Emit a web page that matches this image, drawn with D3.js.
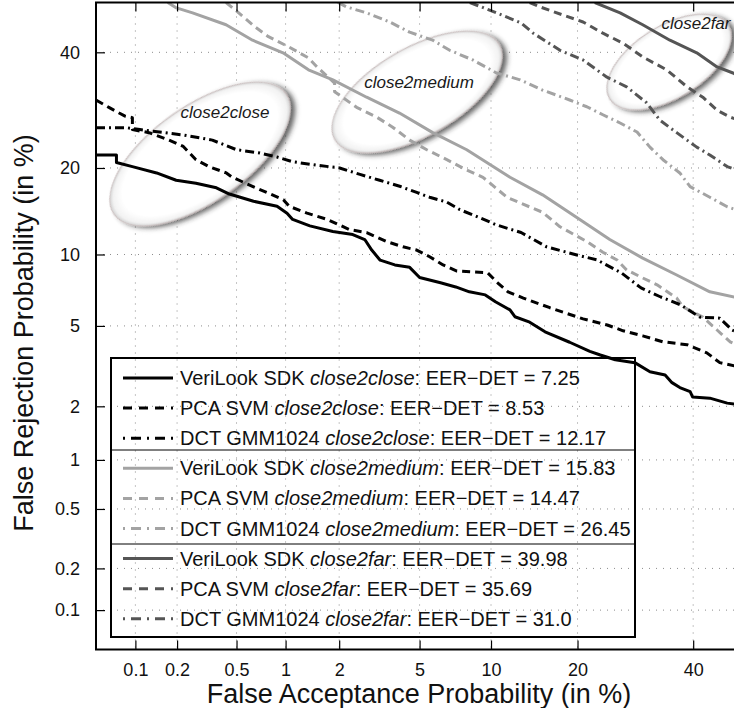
<!DOCTYPE html>
<html>
<head>
<meta charset="utf-8">
<script src="https://cdn.jsdelivr.net/npm/d3@7"></script>
<style>
    body { margin: 0; background: #fff; }
    text { font-family: "Liberation Sans", Arial, Helvetica, sans-serif; }
</style>
</head>
<body>
<svg id="chart" width="734" height="708"></svg>
<script>
// tick values (in %), both axes on a normal deviate scale
var xTicks = [0.1, 0.2, 0.5, 1, 2, 5, 10, 20, 40];
var yTicks = [0.1, 0.2, 0.5, 1, 2, 5, 10, 20, 40];
var axisLimits = [0.05, 50];

var scenarios = ['close2close', 'close2medium', 'close2far'];
var methods = ['VeriLook SDK', 'PCA SVM', 'DCT GMM1024'];
var eerLabels = [
    ['7.25', '8.53', '12.17'],
    ['15.83', '14.47', '26.45'],
    ['39.98', '35.69', '31.0']
];

// DET curves as [false acceptance %, false rejection %]
var verilookClose2close = [[0.05,21.9],[0.072,21.9],[0.072,20.8],[0.095,20.2],[0.143,19.3],[0.197,18.3],[0.27,17.9],[0.37,17.3],[0.45,16.5],[0.64,15.6],[0.89,15.0],[1.02,14.2],[1.10,13.5],[1.38,12.8],[1.85,12.2],[2.36,11.9],[2.72,11.4],[2.95,10.4],[3.25,9.5],[3.83,9.1],[4.5,8.9],[5.0,8.1],[6.2,7.7],[7.2,7.4],[8.2,7.06],[9.5,6.85],[10.4,6.4],[11.8,5.9],[12.3,5.5],[13.9,5.2],[15.7,4.7],[18.9,4.2],[21.8,3.8],[23.4,3.65],[25.8,3.46],[29.1,3.35],[31.8,3.02],[34.6,2.91],[35.9,2.66],[37.4,2.51],[39.4,2.39],[39.9,2.24],[43.3,2.21],[46.8,2.08],[50,2.03]];
var pcaClose2close = [[0.05,31.0],[0.064,29.6],[0.083,28.2],[0.095,27.9],[0.095,25.9],[0.126,25.4],[0.175,24.2],[0.221,23.2],[0.27,21.2],[0.33,20.2],[0.43,19.3],[0.47,18.7],[0.63,17.5],[0.77,16.7],[0.97,15.8],[1.05,15.0],[1.33,14.2],[1.72,13.5],[2.27,12.4],[2.78,12.1],[3.5,11.2],[4.19,10.7],[4.85,10.4],[5.55,9.8],[6.36,9.1],[7.28,8.6],[9.7,8.46],[10.6,7.7],[11.6,7.06],[13.2,6.64],[16.3,6.03],[20.8,5.38],[24.5,5.05],[27.1,4.75],[30.5,4.5],[34.2,4.22],[38.8,4.09],[42.7,3.74],[45.3,3.35],[50,3.16]];
var dctClose2close = [[0.05,26.2],[0.087,26.2],[0.108,25.9],[0.162,25.4],[0.224,25.0],[0.348,24.2],[0.5,22.7],[0.70,22.2],[0.89,21.6],[1.10,20.9],[1.51,20.4],[2.01,20.0],[2.57,19.1],[3.23,18.3],[4.04,17.5],[4.85,16.7],[5.55,16.1],[6.6,15.5],[7.5,14.6],[9.0,13.7],[10.5,12.9],[12.95,12.1],[15.9,10.7],[19.9,9.96],[22.9,9.52],[26.8,8.46],[30.2,7.33],[33.8,6.71],[37.6,6.2],[41.3,5.48],[45.3,5.42],[47.8,4.79],[50,4.54]];

var verilookClose2medium = [[0.172,50],[0.198,48.9],[0.256,47.9],[0.428,45.5],[0.631,42.4],[0.966,39.9],[1.355,36.6],[1.85,34.7],[2.78,31.5],[4.03,28.7],[5.73,25.4],[8.0,22.7],[11.8,18.7],[15.4,16.4],[19.9,13.7],[24.9,11.4],[30.5,9.68],[36.8,8.29],[43.3,7.06],[50,6.58]];
var pcaClose2medium = [[0.428,50],[0.49,48.5],[0.657,45.0],[0.79,43.1],[1.04,41.1],[1.355,38.9],[1.51,37.2],[1.89,34.1],[1.89,32.5],[2.47,29.7],[3.12,28.0],[3.74,26.3],[4.5,24.2],[5.39,22.7],[6.6,21.2],[8.0,19.7],[9.3,18.7],[11.5,16.1],[12.85,15.4],[15.4,14.3],[17.6,12.7],[21.35,11.2],[23.8,10.2],[26.1,9.52],[27.7,8.69],[30.5,8.06],[33.1,7.55],[36.8,6.64],[38.0,6.08],[41.9,5.48],[44.75,4.79],[47.4,4.22],[50,3.96]];
var dctClose2medium = [[1.97,50],[2.19,49.1],[2.78,47.9],[3.62,46.05],[4.5,44.0],[5.73,42.4],[6.79,40.4],[8.48,38.5],[10.5,36.0],[12.85,34.7],[15.4,32.8],[18.9,31.0],[21.35,29.8],[23.8,28.4],[26.6,27.0],[29.5,25.5],[31.8,23.1],[34.2,21.2],[37.4,19.3],[39.4,17.45],[43.3,16.1],[46.8,14.95],[50,14.3]];

var verilookClose2far = [[22.55,50],[26.6,47.9],[30.5,45.5],[35.5,42.4],[40.7,39.9],[44.75,37.15],[47.97,36.0],[50,35.05]];
var pcaClose2far = [[13.9,50],[15.1,49.1],[18.0,47.45],[20.8,46.05],[23.8,43.8],[27.1,41.8],[30.5,39.1],[34.9,36.6],[38.8,33.4],[41.9,31.5],[44.75,29.2],[47.4,28.0],[50,27.2]];
var dctClose2far = [[8.24,50],[10.5,47.9],[12.95,45.85],[14.3,43.8],[17.6,40.4],[20.8,38.5],[24.45,35.2],[27.7,33.4],[31.2,30.5],[33.6,27.5],[36.8,25.4],[40.7,23.1],[43.3,21.9],[46.8,20.2],[50,19.4]];

var curves = [
    [verilookClose2close, pcaClose2close, dctClose2close],
    [verilookClose2medium, pcaClose2medium, dctClose2medium],
    [verilookClose2far, pcaClose2far, dctClose2far]
];

var scenarioColors = ['#000000', '#a3a3a3', '#555555'];
var methodDashes = [null, '8,5', '9,4,2,4'];

// inverse normal cdf (Acklam)
function probit(p) {
    var a = [-3.969683028665376e+01, 2.209460984245205e+02, -2.759285104469687e+02, 1.383577518672690e+02, -3.066479806614716e+01, 2.506628277459239e+00];
    var b = [-5.447609879822406e+01, 1.615858368580409e+02, -1.556989798598866e+02, 6.680131188771972e+01, -1.328068155288572e+01];
    var c = [-7.784894002430293e-03, -3.223964580411365e-01, -2.400758277161838e+00, -2.549732539343734e+00, 4.374664141464968e+00, 2.938163982698783e+00];
    var d = [7.784695709041462e-03, 3.224671290700398e-01, 2.445134137142996e+00, 3.754408661907416e+00];
    var plow = 0.02425, q, r;
    if (p < plow) {
        q = Math.sqrt(-2 * Math.log(p));
        return (((((c[0]*q+c[1])*q+c[2])*q+c[3])*q+c[4])*q+c[5]) / ((((d[0]*q+d[1])*q+d[2])*q+d[3])*q+1);
    }
    if (p <= 1 - plow) {
        q = p - 0.5; r = q * q;
        return (((((a[0]*r+a[1])*r+a[2])*r+a[3])*r+a[4])*r+a[5])*q / (((((b[0]*r+b[1])*r+b[2])*r+b[3])*r+b[4])*r+1);
    }
    q = Math.sqrt(-2 * Math.log(1 - p));
    return -(((((c[0]*q+c[1])*q+c[2])*q+c[3])*q+c[4])*q+c[5]) / ((((d[0]*q+d[1])*q+d[2])*q+d[3])*q+1);
}
function dev(pct) { return probit(pct / 100); }

// plot box is square, its right edge falls just outside the picture
var plotLeft = 96, plotTop = 2.5, plotSize = 647;

var x = d3.scaleLinear()
    .domain(axisLimits.map(dev))
    .range([plotLeft, plotLeft + plotSize]);
var y = d3.scaleLinear()
    .domain(axisLimits.map(dev))
    .range([plotTop + plotSize, plotTop]);

var svg = d3.select('#chart');
var defs = svg.append('defs');

defs.append('clipPath').attr('id', 'plotClip')
    .append('rect')
    .attr('x', plotLeft).attr('y', plotTop).attr('width', plotSize).attr('height', plotSize);

// mostly white disc, darker only at the rim
var grad = defs.append('radialGradient').attr('id', 'ellFill');
grad.append('stop').attr('offset', '0%').attr('stop-color', '#ffffff');
grad.append('stop').attr('offset', '86%').attr('stop-color', '#ffffff');
grad.append('stop').attr('offset', '96%').attr('stop-color', '#f2f2f2');
grad.append('stop').attr('offset', '100%').attr('stop-color', '#d2d2d2');

var shadow = defs.append('filter').attr('id', 'ellShadow')
    .attr('x', '-30%').attr('y', '-30%').attr('width', '160%').attr('height', '160%');
shadow.append('feDropShadow')
    .attr('dx', 3).attr('dy', 4).attr('stdDeviation', 2.5)
    .attr('flood-color', '#2a2a2a').attr('flood-opacity', 0.7);

// dotted grid
var grid = svg.append('g').attr('class', 'grid');
grid.selectAll('.vgrid')
    .data(xTicks)
    .enter()
    .append('line')
    .attr('x1', function(d){ return x(dev(d)); })
    .attr('x2', function(d){ return x(dev(d)); })
    .attr('y1', plotTop).attr('y2', plotTop + plotSize);
grid.selectAll('.hgrid')
    .data(yTicks)
    .enter()
    .append('line')
    .attr('x1', plotLeft).attr('x2', plotLeft + plotSize)
    .attr('y1', function(d){ return y(dev(d)); })
    .attr('y2', function(d){ return y(dev(d)); });
grid.selectAll('line')
    .attr('stroke', '#8c8c8c')
    .attr('stroke-width', 1)
    .attr('stroke-dasharray', '1,6');

// annotation ellipses (pixel layout)
var ellipses = [
    {label: scenarios[0], cx: 200, cy: 154, rx: 105, ry: 48, rot: -35, lx: 225, ly: 118},
    {label: scenarios[1], cx: 417, cy: 92, rx: 95, ry: 44, rot: -30, lx: 419, ly: 88},
    {label: scenarios[2], cx: 669, cy: 62, rx: 70, ry: 36, rot: -32, lx: 696, ly: 29}
];

svg.append('g')
    .selectAll('ellipse')
    .data(ellipses)
    .enter()
    .append('ellipse')
    .attr('cx', 0).attr('cy', 0)
    .attr('rx', function(d){ return d.rx; })
    .attr('ry', function(d){ return d.ry; })
    .attr('transform', function(d){ return 'translate(' + d.cx + ',' + d.cy + ') rotate(' + d.rot + ')'; })
    .attr('fill', 'url(#ellFill)')
    .attr('stroke', '#cbbfbf')
    .attr('stroke-width', 1)
    .attr('filter', 'url(#ellShadow)');

// curves
var line = d3.line()
    .x(function(d){ return x(dev(d[0])); })
    .y(function(d){ return y(dev(d[1])); });

var series = [];
scenarios.forEach(function(s, si){
    methods.forEach(function(m, mi){
        series.push({scenario: si, method: mi, values: curves[si][mi]});
    });
});

svg.append('g')
    .attr('clip-path', 'url(#plotClip)')
    .selectAll('path')
    .data(series.slice().reverse())
    .enter()
    .append('path')
    .attr('d', function(d){ return line(d.values); })
    .attr('fill', 'none')
    .attr('stroke', function(d){ return scenarioColors[d.scenario]; })
    .attr('stroke-width', 3)
    .attr('stroke-linejoin', 'round')
    .attr('stroke-dasharray', function(d){ return methodDashes[d.method]; });

// ellipse labels
svg.append('g')
    .selectAll('text')
    .data(ellipses)
    .enter()
    .append('text')
    .attr('x', function(d){ return d.lx; })
    .attr('y', function(d){ return d.ly; })
    .attr('text-anchor', 'middle')
    .attr('font-size', 17)
    .attr('font-style', 'italic')
    .attr('fill', '#1a1a1a')
    .text(function(d){ return d.label; });

// axes with inward ticks
svg.append('g')
    .attr('transform', 'translate(0,' + (plotTop + plotSize) + ')')
    .call(d3.axisBottom(x)
        .tickValues(xTicks.map(dev))
        .tickSize(-9)
        .tickPadding(14)
        .tickFormat(function(d, i){ return xTicks[i]; }));
svg.append('g')
    .attr('transform', 'translate(0,' + plotTop + ')')
    .call(d3.axisTop(x)
        .tickValues(xTicks.map(dev))
        .tickSize(-9)
        .tickFormat(''));
svg.append('g')
    .attr('transform', 'translate(' + plotLeft + ',0)')
    .call(d3.axisLeft(y)
        .tickValues(yTicks.map(dev))
        .tickSize(-9)
        .tickPadding(16)
        .tickFormat(function(d, i){ return yTicks[i]; }));

svg.selectAll('.domain').remove();
svg.selectAll('.tick line').attr('stroke', '#000').attr('stroke-width', 1.2);
svg.selectAll('.tick text')
    .attr('fill', '#111')
    .attr('font-size', 18)
    .attr('font-family', '"Liberation Sans", Arial, sans-serif');

// frame
svg.append('rect')
    .attr('x', plotLeft).attr('y', plotTop)
    .attr('width', plotSize).attr('height', plotSize)
    .attr('fill', 'none')
    .attr('stroke', '#000')
    .attr('stroke-width', 2);

// axis titles
svg.append('text')
    .attr('x', 419).attr('y', 703)
    .attr('text-anchor', 'middle')
    .attr('font-size', 27)
    .attr('fill', '#111')
    .text('False Acceptance Probability (in %)');
svg.append('text')
    .attr('transform', 'translate(33,333) rotate(-90)')
    .attr('text-anchor', 'middle')
    .attr('font-size', 27)
    .attr('fill', '#111')
    .text('False Rejection Probability (in %)');

// legend
var legend = svg.append('g').attr('class', 'legend');
legend.append('rect')
    .attr('x', 111).attr('y', 358)
    .attr('width', 524).attr('height', 279)
    .attr('fill', 'none')
    .attr('stroke', '#000')
    .attr('stroke-width', 2);
legend.selectAll('.sep')
    .data([450, 544])
    .enter()
    .append('line')
    .attr('x1', 111).attr('x2', 635)
    .attr('y1', function(d){ return d; })
    .attr('y2', function(d){ return d; })
    .attr('stroke', '#000')
    .attr('stroke-width', 1);

var rows = legend.selectAll('.row')
    .data(series)
    .enter()
    .append('g')
    .attr('transform', function(d, i){ return 'translate(0,' + (378 + i * 30.1) + ')'; });

rows.append('line')
    .attr('x1', 123).attr('x2', 173)
    .attr('y1', 0).attr('y2', 0)
    .attr('stroke', function(d){ return scenarioColors[d.scenario]; })
    .attr('stroke-width', 3)
    .attr('stroke-dasharray', function(d){ return d.method === 0 ? null : (d.method === 1 ? '9,7' : '2,6,10,6'); });

var rowText = rows.append('text')
    .attr('x', 180).attr('y', 7)
    .attr('font-size', 20)
    .attr('fill', '#111');
rowText.append('tspan').text(function(d){ return methods[d.method] + ' '; });
rowText.append('tspan').attr('font-style', 'italic').text(function(d){ return scenarios[d.scenario]; });
rowText.append('tspan').text(function(d){ return ': EER\u2212DET = ' + eerLabels[d.scenario][d.method]; });
</script>
</body>
</html>
